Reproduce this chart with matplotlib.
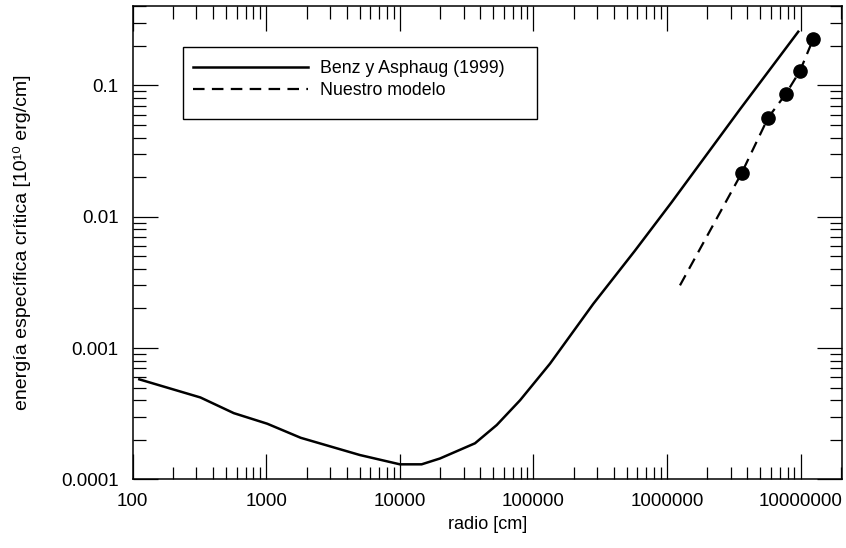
import matplotlib
matplotlib.use('Agg')
import matplotlib.pyplot as plt
from matplotlib.patches import Rectangle
from matplotlib.ticker import FixedLocator, FixedFormatter, LogLocator, NullFormatter

plt.rcParams['font.family'] = ['Liberation Sans', 'DejaVu Sans']

# Benz y Asphaug (1999)
radio_ba = [112, 321, 571, 1016, 1810, 5020, 10000, 14550, 19950, 36500,
            53100, 79400, 133000, 280500, 574000, 1080000, 3520000, 9600000]
energia_ba = [5.77e-4, 4.2e-4, 3.19e-4, 2.65e-4, 2.07e-4, 1.53e-4, 1.30e-4,
              1.30e-4, 1.44e-4, 1.88e-4, 2.59e-4, 4.0e-4, 7.6e-4, 2.17e-3,
              5.5e-3, 0.01285, 0.0659, 0.2566]

# nuestro modelo
radio_modelo = [1.25e6, 3.61e6, 5.72e6, 7.72e6, 9.89e6, 1.24e7]
energia_modelo = [0.003, 0.0214, 0.0569, 0.0857, 0.129, 0.2245]
radio_puntos = [3.61e6, 5.72e6, 7.72e6, 9.89e6, 1.24e7]
energia_puntos = [0.0214, 0.0569, 0.0857, 0.129, 0.2245]

xticks = [1e2, 1e3, 1e4, 1e5, 1e6, 1e7]
xtick_labels = ['100', '1000', '10000', '100000', '1000000', '10000000']
yticks = [1e-4, 1e-3, 1e-2, 1e-1]
ytick_labels = ['0.0001', '0.001', '0.01', '0.1']

fig = plt.figure(figsize=(8.46, 5.48), dpi=100)
ax = fig.add_axes([0.1569, 0.1254, 0.838, 0.8642])

ax.plot(radio_ba, energia_ba, color='black', lw=1.8, label='Benz y Asphaug (1999)')
ax.plot(radio_modelo, energia_modelo, color='black', lw=1.6, dashes=(5.2, 3.3),
        label='Nuestro modelo')
ax.plot(radio_puntos, energia_puntos, 'o', color='black', markersize=9.5)

ax.set_xscale('log')
ax.set_yscale('log')
ax.set_xlim(100, 2.03e7)
ax.set_ylim(1e-4, 0.405)

ax.xaxis.set_major_locator(FixedLocator(xticks))
ax.xaxis.set_major_formatter(FixedFormatter(xtick_labels))
ax.yaxis.set_major_locator(FixedLocator(yticks))
ax.yaxis.set_major_formatter(FixedFormatter(ytick_labels))
subs = [2, 3, 4, 5, 6, 7, 8, 9]
ax.xaxis.set_minor_locator(LogLocator(base=10, subs=subs, numticks=20))
ax.yaxis.set_minor_locator(LogLocator(base=10, subs=subs, numticks=20))
ax.xaxis.set_minor_formatter(NullFormatter())
ax.yaxis.set_minor_formatter(NullFormatter())

ax.tick_params(which='both', direction='in', top=True, right=True,
               width=0.9, colors='black', labelsize=13.5, pad=10)
ax.tick_params(which='major', length=18)
ax.tick_params(which='minor', length=9)
for s in ax.spines.values():
    s.set_linewidth(1.1)

ax.set_xlabel('radio [cm]', fontsize=13)
ax.set_ylabel('energía específica crítica [10¹⁰ erg/cm]', fontsize=14)
ax.xaxis.set_label_coords(0.5, -0.078)
ax.yaxis.set_label_coords(-0.143, 0.5)

# legend box is larger than its entries in the original, so draw the frame apart
ax.add_patch(Rectangle((0.0714, 0.760), 0.4995, 0.153, transform=ax.transAxes,
                       fill=False, edgecolor='black', lw=1.0, zorder=4))
ax.legend(loc='upper left', bbox_to_anchor=(0.085, 0.8854), frameon=False,
          fontsize=12.75, handlelength=6.5, handletextpad=0.68, borderpad=0,
          labelspacing=0.29, borderaxespad=0)

fig.savefig('out.png', dpi=100)
